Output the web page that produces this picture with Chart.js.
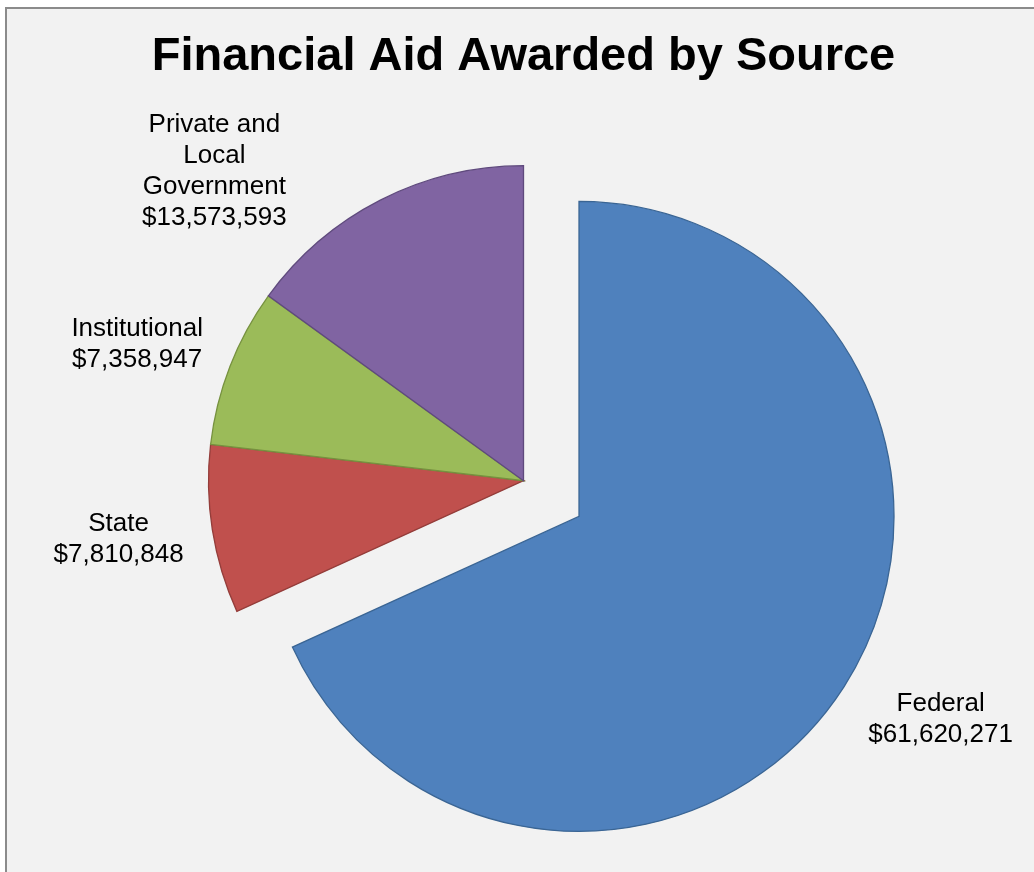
<!DOCTYPE html>
<html>
<head>
<meta charset="utf-8">
<title>Financial Aid Awarded by Source</title>
<script src="https://cdn.jsdelivr.net/npm/chart.js@4.4.1/dist/chart.umd.min.js"></script>
<style>
  html, body { margin: 0; padding: 0; background: #ffffff; overflow: hidden; }
  #wrap { position: relative; width: 1034px; height: 872px; }
  #frame {
    position: absolute; left: 5px; top: 7px; width: 1100px; height: 950px;
    border-left: 2px solid #8b8b8b; border-top: 2px solid #8b8b8b;
    background: #f2f2f2;
  }
  #aid_chart { position: absolute; left: 0; top: 0; }
</style>
</head>
<body>
<div id="wrap">
  <div id="frame"></div>
  <canvas id="aid_chart" width="1034" height="872"></canvas>
</div>
<script>
// chart data
var sources = ['Federal', 'State', 'Institutional', 'Private and Local Government'];
var awarded = [61620271, 7810848, 7358947, 13573593];
var fillColors = ['#4f81bd', '#c0504d', '#9bbb59', '#8064a2'];
var edgeColors = ['#3a6594', '#943d3a', '#76913f', '#5f4a7d'];

// pull the Federal slice away from the others
var explodePlugin = {
    id: 'explode',
    afterDatasetsUpdate: function(chart, args, opts) {
        var meta = chart.getDatasetMeta(0);
        meta.data.forEach(function(arc, i) {
            var d = opts.distances[i] || 0;
            if (!d) return;
            var mid = (arc.startAngle + arc.endAngle) / 2;
            arc.x += Math.cos(mid) * d;
            arc.y += Math.sin(mid) * d;
        });
    }
};

function wrapWords(ctx, text, maxWidth) {
    var words = text.split(' ');
    var lines = [];
    var line = '';
    words.forEach(function(w) {
        var test = line ? line + ' ' + w : w;
        if (line && ctx.measureText(test).width > maxWidth) {
            lines.push(line);
            line = w;
        } else {
            line = test;
        }
    });
    if (line) lines.push(line);
    return lines;
}

// category + value labels outside each slice
var outsideLabels = {
    id: 'outsideLabels',
    afterDatasetsDraw: function(chart, args, opts) {
        var ctx = chart.ctx;
        var meta = chart.getDatasetMeta(0);
        var values = chart.data.datasets[0].data;
        ctx.save();
        ctx.font = opts.size + 'px ' + opts.family;
        ctx.fillStyle = opts.color;
        ctx.textAlign = 'center';
        ctx.textBaseline = 'middle';
        meta.data.forEach(function(arc, i) {
            var lines = wrapWords(ctx, chart.data.labels[i], opts.wrapWidth);
            lines.push('$' + values[i].toLocaleString('en-US'));
            var w = Math.max.apply(null, lines.map(function(l) { return ctx.measureText(l).width; }));
            var h = lines.length * opts.lineHeight;
            var ang = (arc.startAngle + arc.endAngle) / 2;
            var gap = opts.gap;
            // some labels are moved by hand, as in the original
            if (opts.moved[i]) {
                ang = opts.moved[i].angle * Math.PI / 180;
                gap = opts.moved[i].gap;
            }
            var cos = Math.cos(ang), sin = Math.sin(ang);
            var ax = arc.x + cos * (arc.outerRadius + gap);
            var ay = arc.y + sin * (arc.outerRadius + gap);
            var cx = cos >= 0 ? ax + w / 2 : ax - w / 2;
            var cy = ay + sin * h / 2;
            lines.forEach(function(l, k) {
                ctx.fillText(l, cx, cy - h / 2 + opts.lineHeight * (k + 0.5));
            });
        });
        ctx.restore();
    }
};

var ctx = document.getElementById('aid_chart').getContext('2d');

var myChart = new Chart(ctx, {
    type: 'pie',
    data: {
        labels: sources,
        datasets: [{
            data: awarded,
            backgroundColor: fillColors,
            borderColor: edgeColors,
            borderWidth: 1.3,
            borderJoinStyle: 'miter'
        }]
    },
    options: {
        responsive: false,
        animation: false,
        radius: 315,
        events: [],
        layout: { padding: { left: 13, right: 0, top: 0, bottom: 0 } },
        plugins: {
            legend: { display: false },
            tooltip: { enabled: false },
            title: {
                display: true,
                text: 'Financial Aid Awarded by Source',
                color: '#000000',
                font: { family: '"Liberation Sans", Arial, sans-serif', size: 47, weight: 'bold' },
                padding: { top: 29, bottom: 4 }
            },
            explode: { distances: [66, 0, 0, 0] },
            outsideLabels: {
                family: '"Liberation Sans", Arial, sans-serif',
                size: 26,
                lineHeight: 31,
                color: '#000000',
                wrapWidth: 150,
                gap: 29,
                moved: [null, null, null, { angle: 228, gap: 39 }]
            }
        }
    },
    plugins: [explodePlugin, outsideLabels]
});
</script>
</body>
</html>
